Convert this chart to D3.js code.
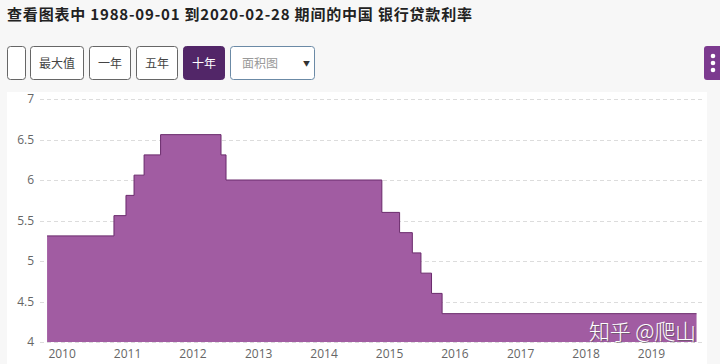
<!DOCTYPE html>
<html>
<head>
<meta charset="utf-8">
<title>中国 银行贷款利率</title>
<script src="https://cdn.jsdelivr.net/npm/d3@7"></script>
<style>
    body { margin: 0; background: #f7f7f7; font-family: "Noto Sans CJK SC", "Open Sans", sans-serif; }
    svg { display: block; }
    .grid line { stroke: #dcdcdc; stroke-dasharray: 4,3; }
    .axis text { fill: #666; font-family: "Open Sans", sans-serif; font-size: 12px; }
    .btn text { font-size: 12px; fill: #333; }
</style>
</head>
<body>
<svg id="chart" width="720" height="364"></svg>
<script>
// rate change dates (1-year lending rate) and the rate from that date on
const dates = ["2009-10-12", "2010-10-20", "2010-12-26", "2011-02-09", "2011-04-06",
               "2011-07-07", "2012-06-08", "2012-07-06", "2014-11-22", "2015-03-01",
               "2015-05-11", "2015-06-28", "2015-08-26", "2015-10-24", "2019-09-12"];
const rates = [5.31, 5.56, 5.81, 6.06, 6.31, 6.56, 6.31, 6.00, 5.60, 5.35,
               5.10, 4.85, 4.60, 4.35, 4.35];
const yTicks = [4, 4.5, 5, 5.5, 6, 6.5, 7];
const xTicks = [2010, 2011, 2012, 2013, 2014, 2015, 2016, 2017, 2018, 2019];
const buttons = ["", "最大值", "一年", "五年", "十年"];

const parse = d3.timeParse("%Y-%m-%d");
const data = dates.map((d, i) => ({ date: parse(d), rate: rates[i] }));

const svg = d3.select("#chart");

// title
svg.append("text")
    .attr("x", 7).attr("y", 20)
    .attr("font-size", 15).attr("font-weight", "bold").attr("fill", "#222")
    .attr("textLength", 465).attr("lengthAdjust", "spacing")
    .text("查看图表中 1988-09-01 到2020-02-28 期间的中国 银行贷款利率");

// button row
const btnX = [7, 30, 89, 136, 183];
const btnW = [18, 53, 41, 41, 41];
const btn = svg.selectAll(".btn").data(buttons).enter().append("g")
    .attr("class", "btn")
    .attr("transform", (d, i) => `translate(${btnX[i]},46)`);
btn.append("rect")
    .attr("x", 0.5).attr("y", 0.5)
    .attr("width", (d, i) => btnW[i]).attr("height", 33).attr("rx", 3)
    .attr("fill", (d, i) => i == 4 ? "#522668" : "#fff")
    .attr("stroke", (d, i) => i == 4 ? "#522668" : "#666");
btn.append("text")
    .attr("x", (d, i) => btnW[i] / 2 + 0.5).attr("y", 22)
    .attr("text-anchor", "middle")
    .style("fill", (d, i) => i == 4 ? "#fff" : "#444")
    .text(d => d);

// select box
const sel = svg.append("g").attr("transform", "translate(230,46)");
sel.append("rect").attr("x", 0.5).attr("y", 0.5).attr("width", 84).attr("height", 33)
    .attr("rx", 3).attr("fill", "#fff").attr("stroke", "#6b8aa6");
sel.append("text").attr("x", 12).attr("y", 22).attr("font-size", 12).attr("fill", "#999").text("面积图");
sel.append("text").attr("x", 73).attr("y", 20).attr("font-size", 7).attr("fill", "#333").text("▼");

// right menu button
const menu = svg.append("g").attr("transform", "translate(704,46)");
menu.append("rect").attr("width", 20).attr("height", 34).attr("rx", 3).attr("fill", "#7c3a8f");
menu.selectAll("circle").data([10, 17, 24]).enter().append("circle")
    .attr("cx", 9).attr("cy", d => d).attr("r", 2.3).attr("fill", "#fff");

// chart panel
svg.append("rect").attr("x", 7).attr("y", 92).attr("width", 700).attr("height", 272).attr("fill", "#fff");

const x = d3.scaleTime()
    .domain([new Date(2010, 0, 1), new Date(2019, 0, 1)])
    .range([61.6, 651]);
const y = d3.scaleLinear().domain([4, 7]).range([342, 99]);

// grid
svg.append("g").attr("class", "grid")
    .selectAll("line").data(yTicks).enter().append("line")
    .attr("x1", 40).attr("x2", 704)
    .attr("y1", d => Math.round(y(d)) + 0.5).attr("y2", d => Math.round(y(d)) + 0.5);

// area
const area = d3.area()
    .curve(d3.curveStepAfter)
    .x(d => x(d.date))
    .y0(y(4))
    .y1(d => y(d.rate));
svg.append("path").datum(data)
    .attr("d", area)
    .attr("fill", "#a15ca2");

const line = d3.line()
    .curve(d3.curveStepAfter)
    .x(d => x(d.date))
    .y(d => y(d.rate));
svg.append("path").datum(data)
    .attr("d", line)
    .attr("fill", "none")
    .attr("stroke", "#6a2a6c")
    .attr("stroke-width", 1);

// y axis
const yAxis = d3.axisLeft(y).tickValues(yTicks).tickSize(0).tickPadding(0)
    .tickFormat(d3.format("~g"));
svg.append("g").attr("class", "axis")
    .attr("transform", "translate(34,0)")
    .call(yAxis)
    .call(g => g.select(".domain").remove());

// x axis
const xAxis = d3.axisBottom(x)
    .tickValues(xTicks.map(yr => new Date(yr, 0, 1)))
    .tickFormat(d3.timeFormat("%Y"))
    .tickSize(0).tickPadding(0);
svg.append("g").attr("class", "axis")
    .attr("transform", "translate(0,349)")
    .call(xAxis)
    .call(g => g.select(".domain").remove());

// watermark
const wm = svg.append("g").attr("font-size", 21).attr("font-family", "Noto Sans CJK SC").attr("font-weight", 300);
wm.append("text").attr("x", 590).attr("y", 340).attr("fill", "#555").attr("opacity", 0.6)
    .attr("textLength", 107).text("知乎 @爬山");
wm.append("text").attr("x", 589).attr("y", 339).attr("fill", "#fff")
    .attr("textLength", 107).text("知乎 @爬山");
</script>
</body>
</html>
